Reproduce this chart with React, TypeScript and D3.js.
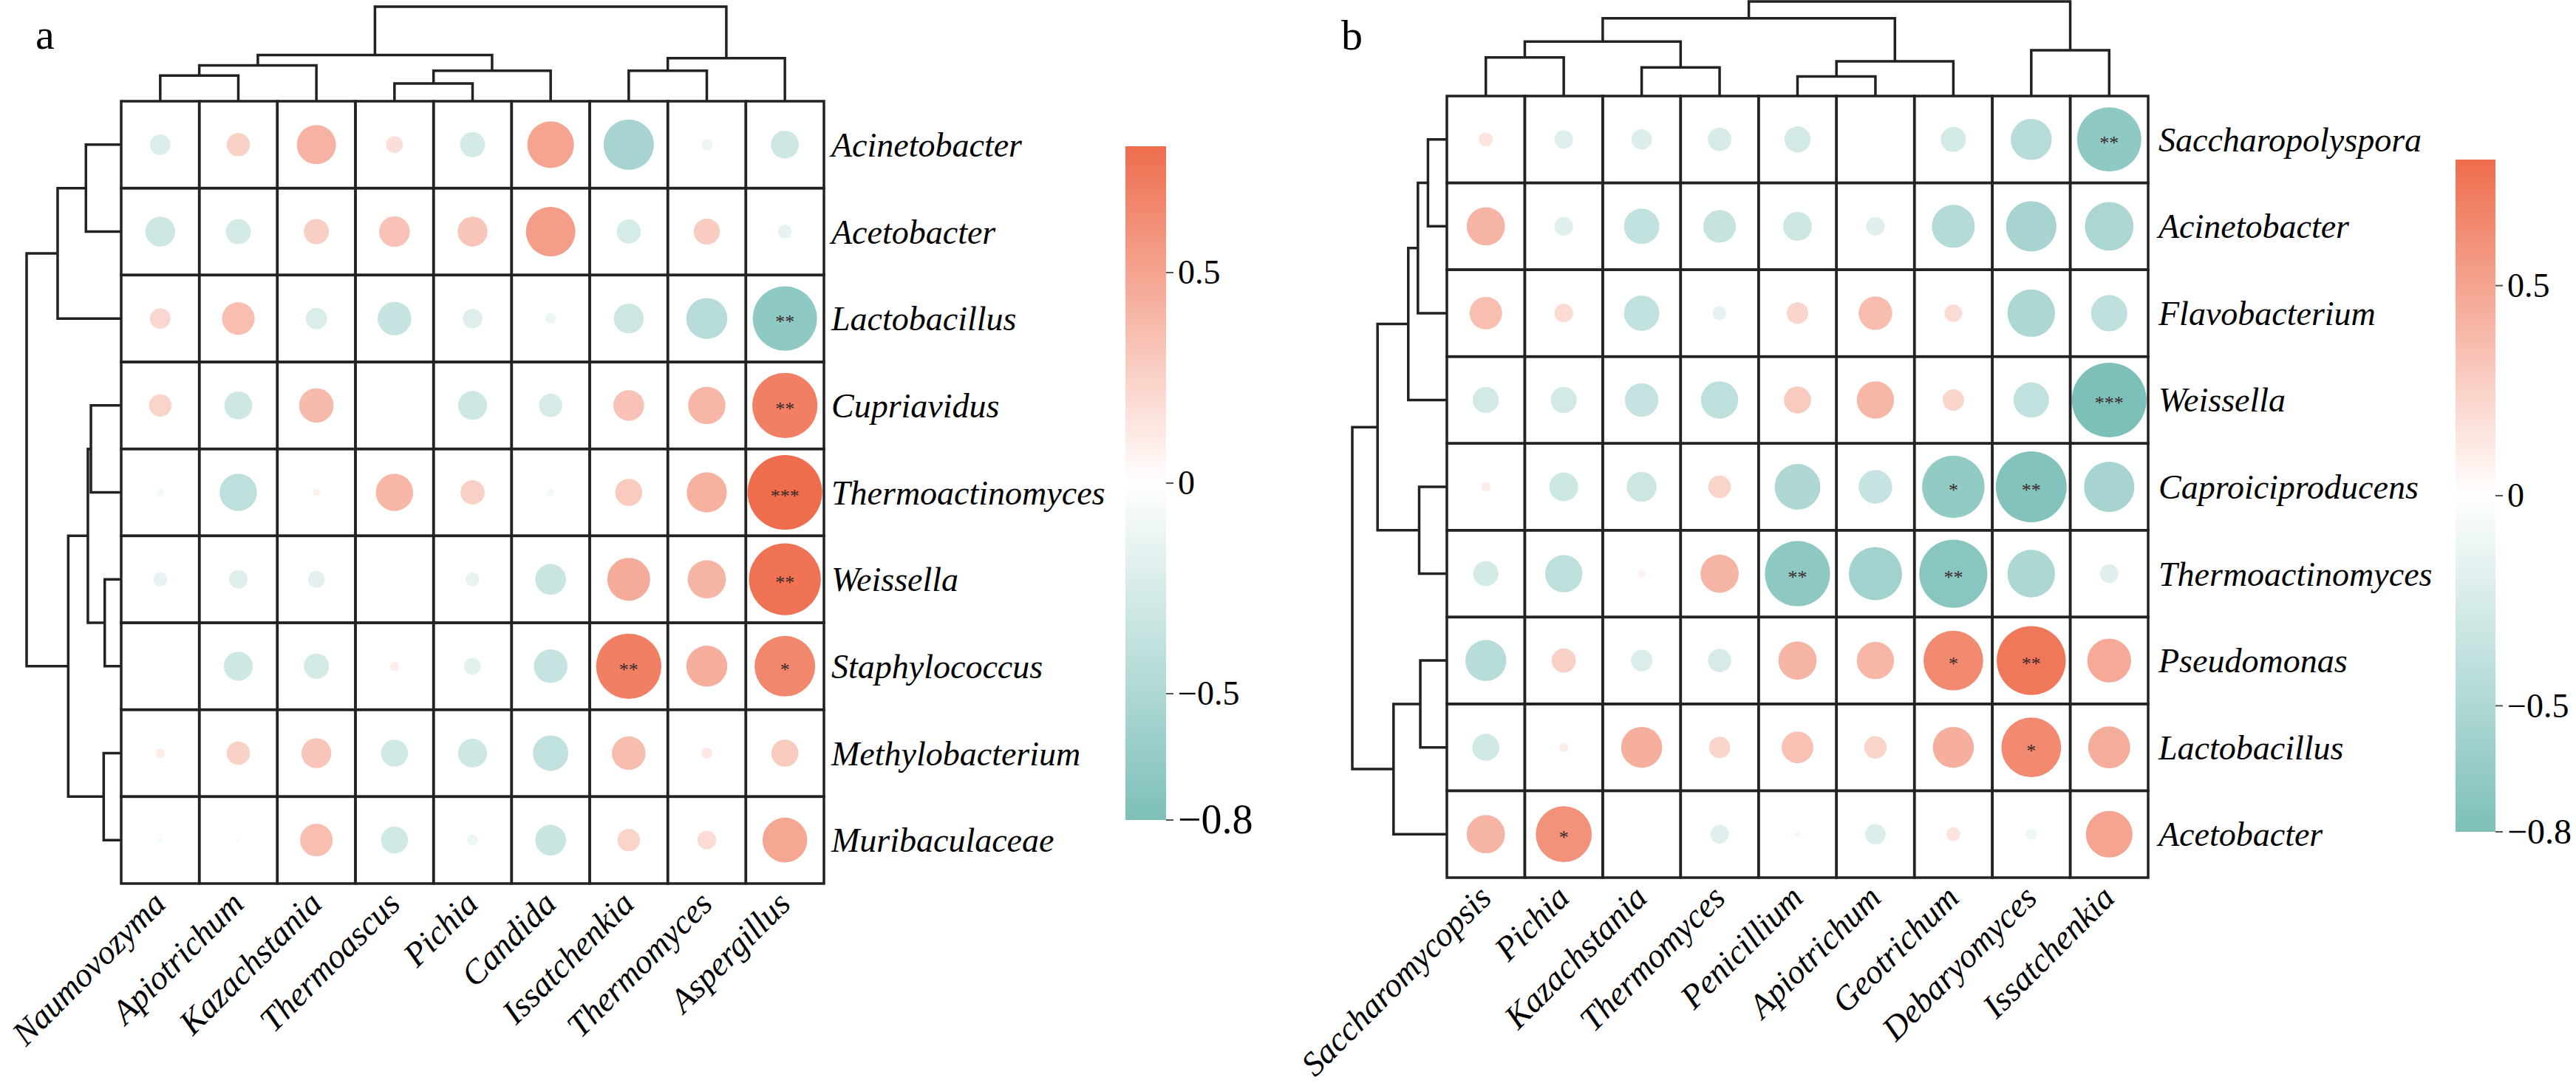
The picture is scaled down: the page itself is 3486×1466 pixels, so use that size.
import React from 'react';
import * as d3 from 'd3';

// panel a: bacteria (rows) x fungi (columns)
const aRows = ['Acinetobacter', 'Acetobacter', 'Lactobacillus', 'Cupriavidus', 'Thermoactinomyces', 'Weissella', 'Staphylococcus', 'Methylobacterium', 'Muribaculaceae'];
const aCols = ['Naumovozyma', 'Apiotrichum', 'Kazachstania', 'Thermoascus', 'Pichia', 'Candida', 'Issatchenkia', 'Thermomyces', 'Aspergillus'];
const aValues = [
  [-0.22, 0.25, 0.42, 0.18, -0.27, 0.5, -0.54, -0.12, -0.3],
  [-0.32, -0.27, 0.27, 0.33, 0.32, 0.53, -0.26, 0.28, -0.15],
  [0.22, 0.35, -0.23, -0.36, -0.21, -0.12, -0.32, -0.44, -0.69],
  [0.24, -0.3, 0.37, 0, -0.31, -0.25, 0.33, 0.4, 0.7],
  [-0.08, -0.4, 0.08, 0.4, 0.26, -0.08, 0.29, 0.43, 0.8],
  [-0.15, -0.2, -0.18, 0, -0.15, -0.33, 0.46, 0.41, 0.77],
  [0, -0.31, -0.27, 0.1, -0.18, -0.36, 0.7, 0.44, 0.65],
  [0.1, 0.25, 0.32, -0.29, -0.31, -0.38, 0.36, 0.12, 0.29],
  [-0.06, -0.05, 0.35, -0.29, -0.12, -0.33, 0.24, 0.2, 0.48],
];
const aStars = [
  ['Lactobacillus', 'Aspergillus', '**'],
  ['Cupriavidus', 'Aspergillus', '**'],
  ['Thermoactinomyces', 'Aspergillus', '***'],
  ['Weissella', 'Aspergillus', '**'],
  ['Staphylococcus', 'Issatchenkia', '**'],
  ['Staphylococcus', 'Aspergillus', '*'],
];
// hclust style merges: [left, right, height]; negative = leaf, positive = earlier step
const aRowMerge = [[-1, -2, 0.373], [1, -3, 0.672], [-4, -5, 0.32], [-6, -7, 0.174], [3, 4, 0.352], [-8, -9, 0.185], [5, 6, 0.56], [2, 7, 1]];
const aColMerge = [[-1, -2, 0.271], [-4, -5, 0.188], [-7, -8, 0.323], [1, -3, 0.379], [2, -6, 0.323], [3, -9, 0.456], [4, 5, 0.489], [7, 6, 1]];

// panel b
const bRows = ['Saccharopolyspora', 'Acinetobacter', 'Flavobacterium', 'Weissella', 'Caproiciproducens', 'Thermoactinomyces', 'Pseudomonas', 'Lactobacillus', 'Acetobacter'];
const bCols = ['Saccharomycopsis', 'Pichia', 'Kazachstania', 'Thermomyces', 'Penicillium', 'Apiotrichum', 'Geotrichum', 'Debaryomyces', 'Issatchenkia'];
const bValues = [
  [0.15, -0.2, -0.22, -0.25, -0.28, 0, -0.27, -0.44, -0.69],
  [0.41, -0.2, -0.38, -0.35, -0.31, -0.2, -0.46, -0.54, -0.52],
  [0.35, 0.2, -0.38, -0.15, 0.23, 0.36, 0.19, -0.51, -0.39],
  [-0.28, -0.28, -0.36, -0.4, 0.29, 0.4, 0.23, -0.38, -0.8],
  [0.1, -0.31, -0.32, 0.24, -0.49, -0.36, -0.67, -0.76, -0.54],
  [-0.27, -0.4, 0.08, 0.41, -0.7, -0.57, -0.73, -0.51, -0.2],
  [-0.44, 0.26, -0.23, -0.25, 0.41, 0.4, 0.64, 0.74, 0.47],
  [-0.29, 0.1, 0.44, 0.23, 0.34, 0.24, 0.44, 0.64, 0.45],
  [0.41, 0.6, 0, -0.2, 0.06, -0.22, 0.15, -0.12, 0.5],
];
const bStars = [
  ['Saccharopolyspora', 'Issatchenkia', '**'],
  ['Weissella', 'Issatchenkia', '***'],
  ['Caproiciproducens', 'Geotrichum', '*'],
  ['Caproiciproducens', 'Debaryomyces', '**'],
  ['Thermoactinomyces', 'Penicillium', '**'],
  ['Thermoactinomyces', 'Geotrichum', '**'],
  ['Pseudomonas', 'Geotrichum', '*'],
  ['Pseudomonas', 'Debaryomyces', '**'],
  ['Lactobacillus', 'Debaryomyces', '*'],
  ['Acetobacter', 'Pichia', '*'],
];
const bRowMerge = [[-1, -2, 0.2], [1, -3, 0.306], [2, -4, 0.408], [-5, -6, 0.293], [3, 4, 0.733], [-7, -8, 0.281], [6, -9, 0.564], [5, 7, 1]];
const bColMerge = [[-1, -2, 0.408], [-3, -4, 0.302], [1, 2, 0.576], [-5, -6, 0.207], [4, -7, 0.367], [3, 5, 0.822], [-8, -9, 0.485], [6, 7, 1]];

const legendTicks = [0.5, 0, -0.5, -0.8];

const W = 3486;
const H = 1466;
const SERIF = '"Liberation Serif", "Times New Roman", serif';
const LINE = '#222';

const color = d3.scaleLinear<string>()
  .domain([-0.8, 0, 0.8])
  .range(['#7DC0B9', '#FFFFFF', '#EE6D4D'])
  .clamp(true);
const radius = d3.scaleLinear().domain([0, 0.8]).range([0, 50.5]);

// build elbow paths for a dendrogram from hclust-like merges
function dendroPaths(merge: number[][], leafPos: (i: number) => number, hPos: (h: number) => number, vertical: boolean) {
  const nodes: { p: number; h: number }[] = [];
  const get = (k: number) => (k < 0 ? { p: leafPos(-k - 1), h: 0 } : nodes[k - 1]);
  const paths: string[] = [];
  merge.forEach(([l, r, h]) => {
    const a = get(l);
    const b = get(r);
    if (vertical) {
      paths.push(`M${a.p},${hPos(a.h)}V${hPos(h)}H${b.p}V${hPos(b.h)}`);
    } else {
      paths.push(`M${hPos(a.h)},${a.p}H${hPos(h)}V${b.p}H${hPos(b.h)}`);
    }
    nodes.push({ p: (a.p + b.p) / 2, h });
  });
  return paths;
}

interface PanelProps {
  id: string;
  letter: string;
  letterX: number;
  letterY: number;
  rows: string[];
  cols: string[];
  values: number[][];
  stars: string[][];
  rowMerge: number[][];
  colMerge: number[][];
  x0: number;
  x1: number;
  y0: number;
  y1: number;
  labelGap: number;
  barX: number;
  barW: number;
  barTop: number;
  barBottom: number;
  minLabelSize: number;
}

const Panel = (p: PanelProps) => {
  const x = d3.scaleBand<string>().domain(p.cols).range([p.x0, p.x1]);
  const y = d3.scaleBand<string>().domain(p.rows).range([p.y0, p.y1]);
  const cx = (c: string) => (x(c) as number) + x.bandwidth() / 2;
  const cy = (r: string) => (y(r) as number) + y.bandwidth() / 2;

  const treeH = 128;
  const colH = d3.scaleLinear().domain([0, 1]).range([p.y0, p.y0 - treeH]);
  const rowH = d3.scaleLinear().domain([0, 1]).range([p.x0, p.x0 - treeH]);
  const colPaths = dendroPaths(p.colMerge, i => cx(p.cols[i]), colH, true);
  const rowPaths = dendroPaths(p.rowMerge, i => cy(p.rows[i]), rowH, false);

  const bar = d3.scaleLinear().domain([-0.8, 0.8]).range([p.barBottom, p.barTop]);
  const gradId = `grad-${p.id}`;

  return (
    <g>
      <text x={p.letterX} y={p.letterY} fontFamily={SERIF} fontSize={58}>{p.letter}</text>

      {/* circles */}
      {p.rows.map((r, i) => p.cols.map((c, j) => {
        const v = p.values[i][j];
        if (v === 0) return null;
        return <circle key={`${r}-${c}`} cx={cx(c)} cy={cy(r)} r={radius(Math.abs(v))} fill={color(v)} />;
      }))}
      {p.stars.map(([r, c, s]) => (
        <text key={`s-${r}-${c}`} x={cx(c)} y={cy(r) + 13} textAnchor="middle"
          fontFamily={SERIF} fontSize={26} fill="#3a2a2a">{s}</text>
      ))}

      {/* grid */}
      {p.rows.map(r => p.cols.map(c => (
        <rect key={`g-${r}-${c}`} x={x(c)} y={y(r)} width={x.bandwidth()} height={y.bandwidth()}
          fill="none" stroke={LINE} strokeWidth={3.5} />
      )))}

      {/* dendrograms */}
      {colPaths.concat(rowPaths).map((d, i) => (
        <path key={`d${i}`} d={d} fill="none" stroke={LINE} strokeWidth={3.5} />
      ))}

      {/* row labels */}
      {p.rows.map(r => (
        <text key={`rl-${r}`} x={p.x1 + p.labelGap} y={cy(r) + 16} fontFamily={SERIF}
          fontStyle="italic" fontSize={46}>{r}</text>
      ))}
      {/* column labels */}
      {p.cols.map(c => (
        <text key={`cl-${c}`} transform={`translate(${cx(c) + 10},${p.y1 + 30}) rotate(-45)`}
          textAnchor="end" fontFamily={SERIF} fontStyle="italic" fontSize={46}>{c}</text>
      ))}

      {/* colour bar */}
      <defs>
        <linearGradient id={gradId} x1="0" y1="1" x2="0" y2="0">
          <stop offset="0%" stopColor={color(-0.8)} />
          <stop offset="50%" stopColor={color(0)} />
          <stop offset="100%" stopColor={color(0.8)} />
        </linearGradient>
      </defs>
      <rect x={p.barX} y={p.barTop} width={p.barW} height={p.barBottom - p.barTop} fill={`url(#${gradId})`} />
      {legendTicks.map(t => {
        const big = t === -0.8;
        const fs = big ? p.minLabelSize : 46;
        return (
          <g key={`t${t}`}>
            <line x1={p.barX + p.barW} x2={p.barX + p.barW + 10} y1={bar(t)} y2={bar(t)} stroke="#555" strokeWidth={2} />
            <text x={p.barX + p.barW + 16} y={bar(t) + fs * 0.33} fontFamily={SERIF} fontSize={fs}>
              {t < 0 ? `\u2212${Math.abs(t)}` : `${t}`}
            </text>
          </g>
        );
      })}
    </g>
  );
};

const App = () => (
  <svg width={W} height={H} style={{ position: 'absolute', left: 0, top: 0, background: '#fff' }}>
    <rect width={W} height={H} fill="#fff" />
    <Panel id="a" letter="a" letterX={48} letterY={66}
      rows={aRows} cols={aCols} values={aValues} stars={aStars}
      rowMerge={aRowMerge} colMerge={aColMerge}
      x0={164} x1={1115} y0={137} y1={1196} labelGap={10}
      barX={1523} barW={55} barTop={198} barBottom={1110} minLabelSize={56} />
    <Panel id="b" letter="b" letterX={1815} letterY={67}
      rows={bRows} cols={bCols} values={bValues} stars={bStars}
      rowMerge={bRowMerge} colMerge={bColMerge}
      x0={1958} x1={2907} y0={130} y1={1188} labelGap={14}
      barX={3323} barW={54} barTop={216} barBottom={1126} minLabelSize={48} />
  </svg>
);

export default App;
